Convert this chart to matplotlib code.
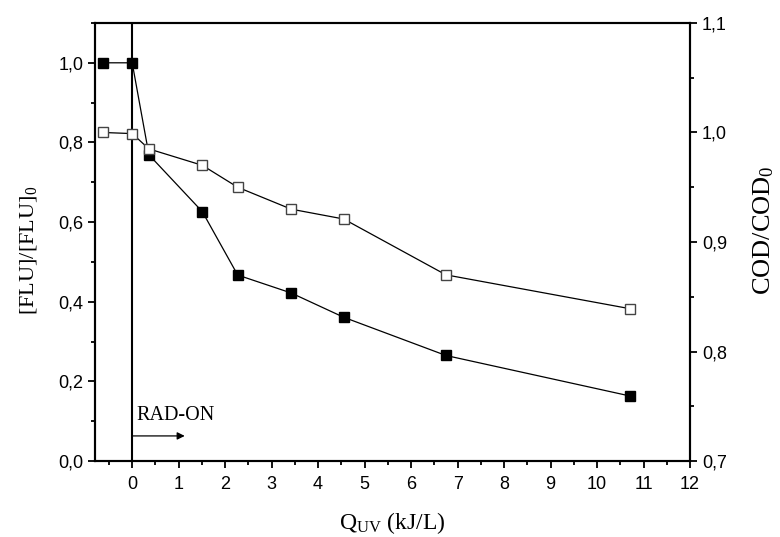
import numpy as np
import matplotlib
matplotlib.use('Agg')
import matplotlib.pyplot as plt
from matplotlib.ticker import MultipleLocator, FuncFormatter

plt.rcParams['font.family'] = 'Liberation Sans'
plt.rcParams['mathtext.fontset'] = 'custom'
plt.rcParams['mathtext.rm'] = 'Liberation Serif'
plt.rcParams['mathtext.it'] = 'Liberation Serif:italic'

#Data
q_uv = [-0.62, 0.0, 0.36, 1.51, 2.27, 3.42, 4.55, 6.75, 10.72]
flu = [1.0, 1.0, 0.769, 0.626, 0.467, 0.422, 0.361, 0.265, 0.163]
cod = [1.0, 0.999, 0.985, 0.970, 0.950, 0.930, 0.921, 0.870, 0.839]

fig = plt.figure(figsize=(7.8, 5.37), dpi=100)
ax = fig.add_axes([0.1218, 0.1415, 0.7628, 0.8157])
ax2 = ax.twinx()

ax.plot(q_uv, flu, color='black', lw=0.9, marker='s', ms=6.5,
        mfc='black', mec='black', zorder=3)
ax2.plot(q_uv, cod, color='black', lw=0.9, marker='s', ms=6.5,
         mfc='white', mec='#444444', mew=1.0, zorder=3)

ax.axvline(0, color='black', lw=1.5, zorder=2)
ax.annotate('', xy=(1.13, 0.063), xytext=(0.0, 0.063),
            arrowprops=dict(arrowstyle='-|>', color='black', lw=0.9,
                            mutation_scale=11, shrinkA=0, shrinkB=0))
ax.text(0.1, 0.103, 'RAD-ON', fontsize=14.5, family='Liberation Serif',
        ha='left', va='baseline')

ax.set_xlim(-0.8, 12)
ax.set_ylim(0, 1.1)
ax2.set_ylim(0.7, 1.1)

comma = FuncFormatter(lambda v, p: ('%.1f' % v).replace('.', ','))
ax.xaxis.set_major_locator(MultipleLocator(1))
ax.xaxis.set_minor_locator(MultipleLocator(0.5))
ax.yaxis.set_major_locator(MultipleLocator(0.2))
ax.yaxis.set_minor_locator(MultipleLocator(0.1))
ax.yaxis.set_major_formatter(comma)
ax2.yaxis.set_major_locator(MultipleLocator(0.1))
ax2.yaxis.set_minor_locator(MultipleLocator(0.05))
ax2.yaxis.set_major_formatter(comma)

for a in (ax, ax2):
    for s in a.spines.values():
        s.set_linewidth(1.5)
    a.tick_params(which='major', direction='out', length=5, width=1.3,
                  labelsize=13)
    a.tick_params(which='minor', direction='out', length=3, width=1.3)
ax.tick_params(top=False, which='both')
ax.tick_params(axis='x', which='major', pad=6)

ax.set_xlabel('Q$_{\\mathrm{UV}}$ (kJ/L)', fontsize=17,
              family='Liberation Serif', labelpad=12)
ax.set_ylabel('[FLU]/[FLU]$_{\\mathrm{0}}$', fontsize=16,
              family='Liberation Serif')
ax2.set_ylabel('COD/COD$_{\\mathrm{0}}$', fontsize=19,
               family='Liberation Serif')
ax.yaxis.set_label_coords(-0.094, 0.48)
ax2.yaxis.set_label_coords(1.104, 0.527)

plt.savefig('out.png', dpi=100)
